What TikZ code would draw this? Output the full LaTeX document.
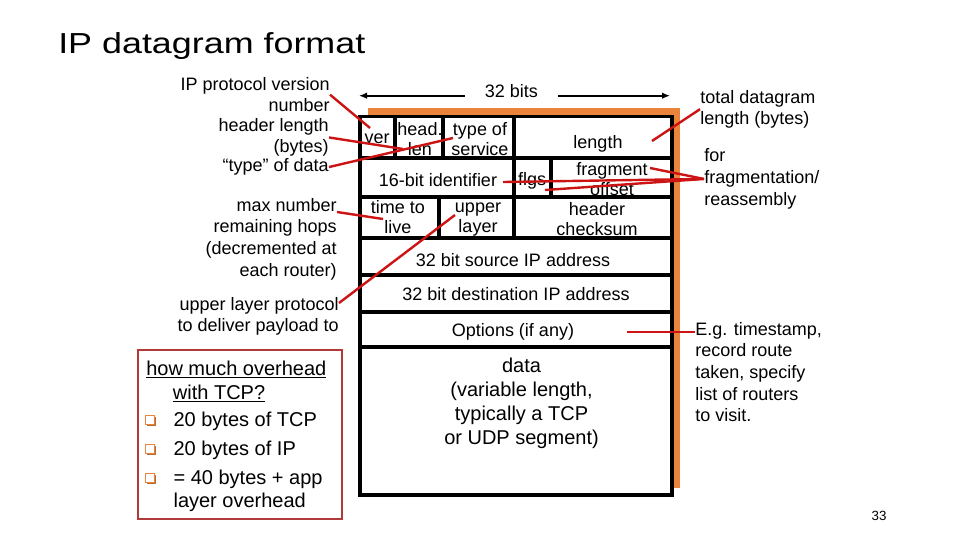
\documentclass[tikz,border=0pt]{standalone}
\usepackage{fontspec}
\setmainfont{Liberation Sans}
\usetikzlibrary{arrows.meta,shadows}
\definecolor{ipred}{HTML}{CC1414}
\definecolor{iporange}{HTML}{E9843A}
\definecolor{ipboxred}{HTML}{B03A3A}
\newcommand{\lblfont}{\fontsize{13.5}{16.2}\selectfont}
\newcommand{\fieldfont}{\fontsize{13.5}{15}\selectfont}
\newcommand{\bigfont}{\fontsize{15}{18}\selectfont}
\tikzset{
  gridline/.style={draw=black, line width=2.3pt},
  shadowbox/.style={fill=iporange, draw=none},
  fieldtxt/.style={font=\fieldfont, align=center, inner sep=0pt},
  datatxt/.style={font=\bigfont, align=center, inner sep=0pt},
  lbl/.style={font=\lblfont, inner sep=0pt},
  notetxt/.style={font=\bigfont, inner sep=0pt},
  pointer/.style={draw=ipred, line width=1.8pt},
  widtharrow/.style={-{Latex[length=6pt,width=5pt]}, line width=1.3pt, draw=black},
  notebox/.style={draw=ipboxred, line width=0.8pt},
  qbox/.style={draw=iporange, fill=white, line width=1pt, minimum size=6.5pt, inner sep=0pt,
    drop shadow={shadow xshift=1pt, shadow yshift=-1pt, fill=iporange!80!black, opacity=1}}
}

\begin{document}
\begin{tikzpicture}[x=0.75pt, y=-0.75pt]
  \useasboundingbox (0,0) rectangle (960,540);
  \node[font=\fontsize{21.7}{26}\selectfont, anchor=base west, inner sep=0pt] (title) at (58,53) {\scalebox{1.24}[1]{IP datagram format}};

  % datagram frame
  \fill[shadowbox] (368,107.7) rectangle (680,488);
  \draw[gridline, fill=white] (360,116.7) rectangle (672,495);
  \draw[gridline] (360,158) -- (672,158);
  \draw[gridline] (360,197) -- (672,197);
  \draw[gridline] (360,238) -- (672,238);
  \draw[gridline] (360,275) -- (672,275);
  \draw[gridline] (360,312) -- (672,312);
  \draw[gridline] (360,347) -- (672,347);
  \draw[gridline] (395,116.7) -- (395,158);
  \draw[gridline] (443,116.7) -- (443,158);
  \draw[gridline] (514,116.7) -- (514,238);
  \draw[gridline] (551,158) -- (551,197);
  \draw[gridline] (439,197) -- (439,238);

  \node[lbl, anchor=base, inner xsep=15pt] (bits) at (511.3,97.7) {32 bits};
  \coordinate (wl) at (359,95.7);
  \coordinate (wr) at (670,95.7);
  \draw[widtharrow] (bits.west |- wl) -- (wl);
  \draw[widtharrow] (bits.east |- wr) -- (wr);

  % header fields
  \node[fieldtxt, anchor=base] (ver) at (377,143) {ver};
  \node[fieldtxt, anchor=north] (hlen) at (420,122) {head.\\len};
  \node[fieldtxt, anchor=north] (tos) at (480,122) {type of\\service};
  \node[fieldtxt, anchor=base] (len) at (598,148.3) {length};
  \node[fieldtxt, anchor=base] (ident) at (438,186) {16-bit identifier};
  \node[fieldtxt, anchor=base] (flgs) at (532,185) {flgs};
  \node[fieldtxt, anchor=north] (frag) at (612,162) {fragment\\offset};
  \node[fieldtxt, anchor=north] (ttl) at (398,200) {time to\\live};
  \node[fieldtxt, anchor=north] (proto) at (478,202.4) {upper\\layer};
  \node[fieldtxt, anchor=north] (csum) at (597,202) {header\\checksum};
  \node[fieldtxt, anchor=base] (src) at (513,266) {32 bit source IP address};
  \node[fieldtxt, anchor=base] (dst) at (516,300) {32 bit destination IP address};
  \node[fieldtxt, anchor=base] (opts) at (513,336.7) {Options (if any)};
  \node[datatxt, anchor=north] (data) at (521.5,357.4) {data\\(variable length,\\typically a TCP\\or UDP segment)};

  % labels
  \node[lbl, align=right, anchor=north east] (verlbl) at (330,77) {IP protocol version\\number};
  \node[lbl, align=right, anchor=north east] (hlenlbl) at (329,118) {header length\\(bytes)};
  \node[lbl, anchor=base east] (toslbl) at (329,171.7) {“type” of data};
  \node[lbl, align=right, anchor=north east] (ttllbl) at (337,198) {max number\\remaining hops\\(decremented at\\each router)};
  \node[lbl, align=right, anchor=north east] (protolbl) at (339,297) {upper layer protocol\\to deliver payload to};
  \node[lbl, align=left, anchor=north west] (lenlbl) at (700,89.7) {total datagram\\length (bytes)};
  \node[lbl, align=left, anchor=north west] (fraglbl) at (704,148.7) {for\\fragmentation/\\reassembly};
  \node[lbl, align=left, anchor=north west] (optlbl) at (695,322) {E.g. timestamp,\\record route\\taken, specify\\list of routers\\to visit.};

  \coordinate (verpt) at (370,128);
  \coordinate (hlenpt) at (403,149);
  \coordinate (tospt) at (453,138);
  \coordinate (ttlpt) at (383,219);
  \coordinate (protopt) at (455,215);
  \coordinate (lenpt) at (652,141);
  \coordinate (identpt) at (503,182);
  \coordinate (flgspt) at (545,190);
  \coordinate (fragpt) at (650,168);
  \coordinate (optpt) at (627,332);

  \draw[pointer] (verlbl.east) -- (verpt);
  \draw[pointer] (hlenlbl.east) -- (hlenpt);
  \draw[pointer] (toslbl.east) -- (tospt);
  \draw[pointer] ([yshift=-10.5pt]ttllbl.north east) -- (ttlpt);
  \draw[pointer] ([yshift=-4.5pt]protolbl.north east) -- (protopt);
  \draw[pointer] (lenlbl.west) -- (lenpt);
  \draw[pointer] (fraglbl.west) -- (identpt);
  \draw[pointer] (fraglbl.west) -- (flgspt);
  \draw[pointer] (fraglbl.west) -- (fragpt);
  \draw[pointer] (optpt) -- (optpt -| optlbl.west);

  % overhead note
  \draw[notebox] (138,350) rectangle (342,519);
  \node[notetxt, align=left, anchor=north west] (ohead) at (146,360.7) {\underline{how much overhead}\\\hspace*{20pt}\underline{with TCP?}};
  \node[notetxt, anchor=base west] (item1) at (173.3,426) {20 bytes of TCP};
  \node[notetxt, anchor=base west] (item2) at (173.3,455) {20 bytes of IP};
  \node[notetxt, font=\fontsize{15}{17}\selectfont, align=left, anchor=north west] (item3) at (173.3,469.7) {= 40 bytes + app\\layer overhead};
  \node[qbox] (q1) at (150,420) {};
  \node[qbox] (q2) at (150,449) {};
  \node[qbox] (q3) at (150,478) {};

  \node[font=\fontsize{10}{12}\selectfont, anchor=base, inner sep=0pt] (pgnum) at (879,520) {33};
\end{tikzpicture}
\end{document}
